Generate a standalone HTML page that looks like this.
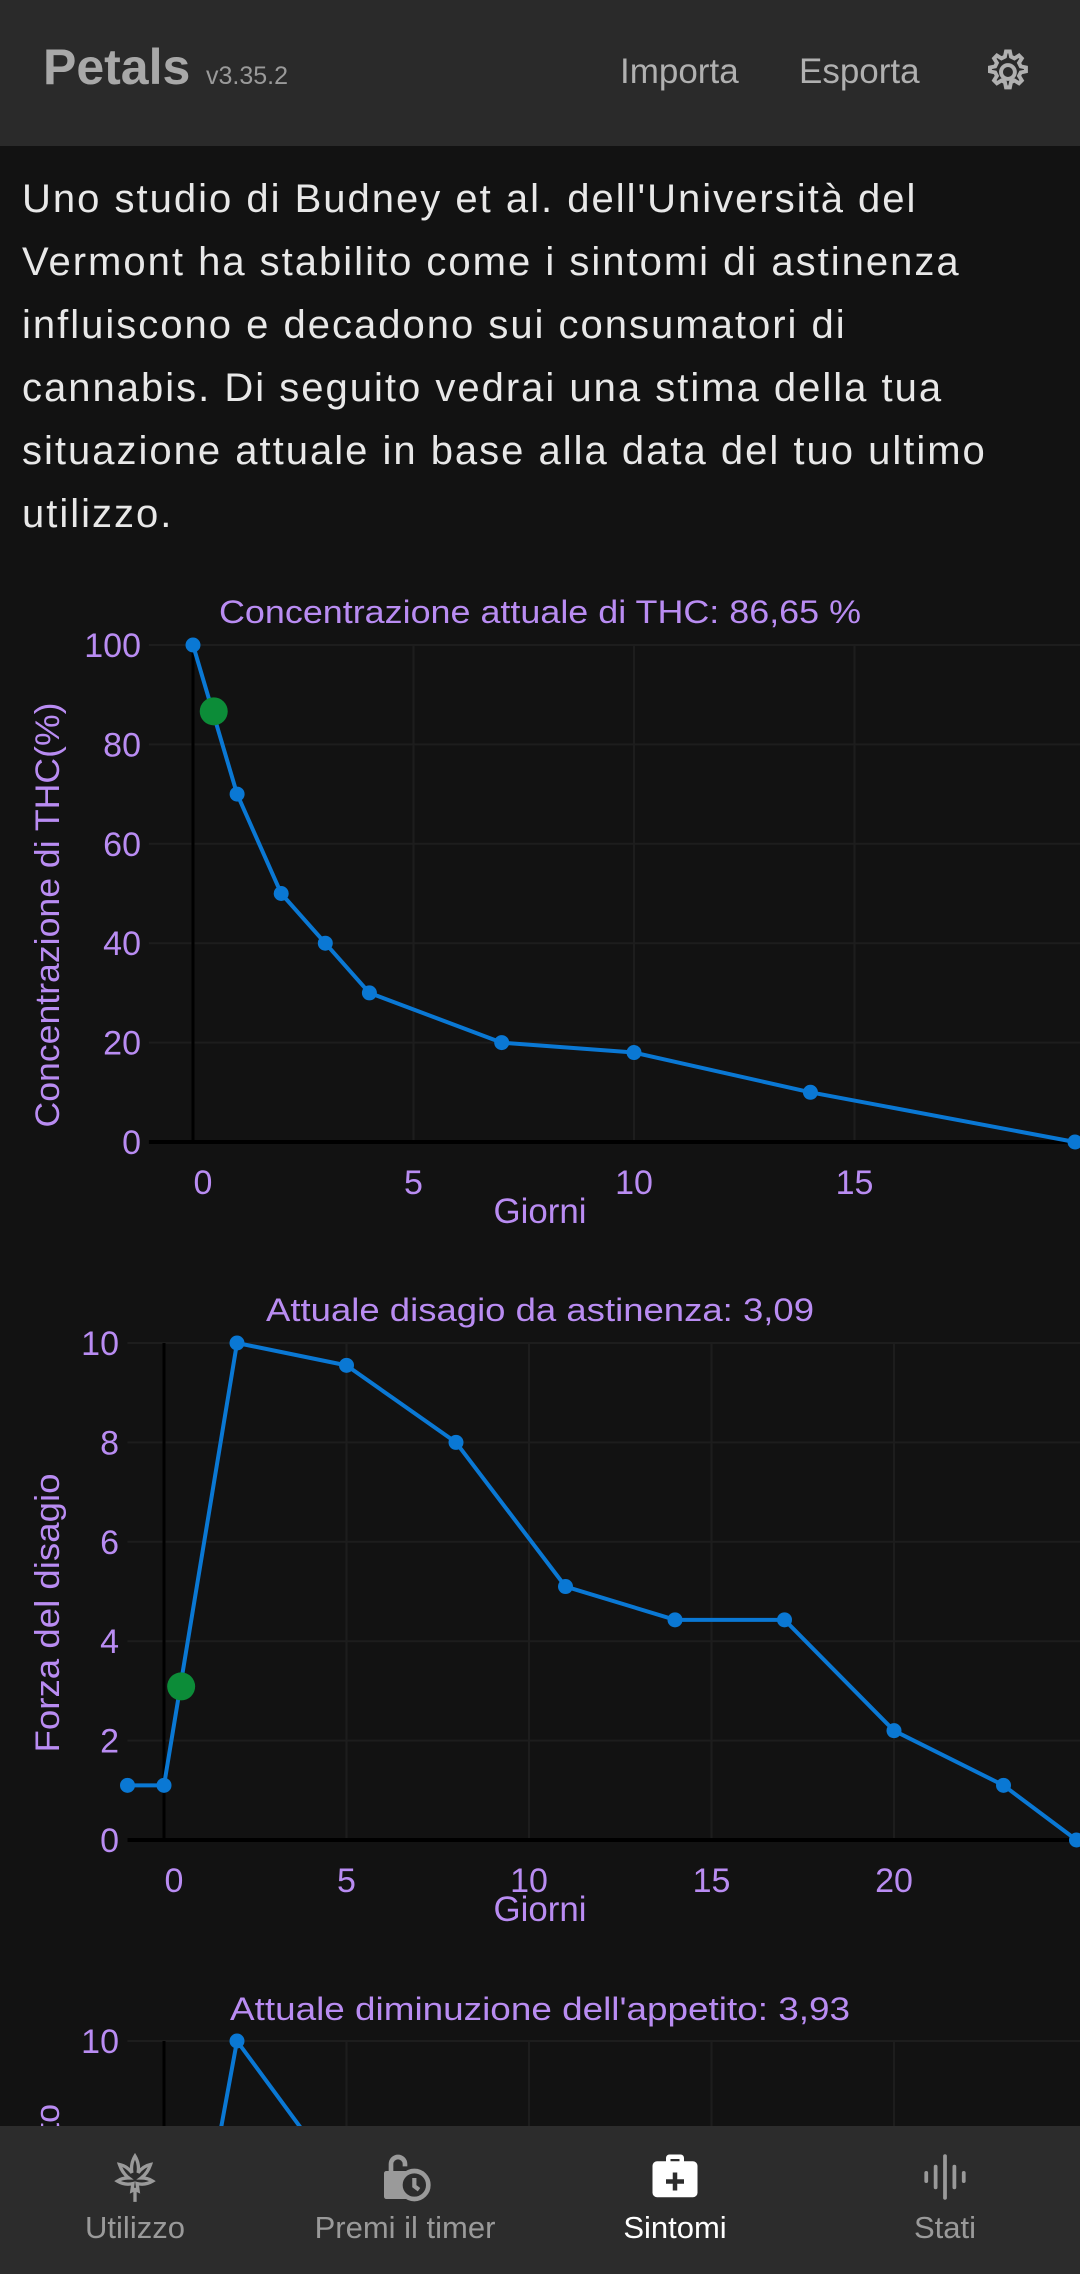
<!DOCTYPE html>
<html><head><meta charset="utf-8"><style>
html,body{margin:0;padding:0;background:#121212;width:1080px;height:2274px;overflow:hidden;font-family:"Liberation Sans",sans-serif;position:relative}
#hdr{position:absolute;left:0;top:0;width:1080px;height:146px;background:#2a2a2a}
#para{position:absolute;left:22px;top:168px;width:1058px;color:#e8e8e8;font-size:40px;line-height:63px;letter-spacing:2px;white-space:nowrap;overflow:hidden}
#nav{position:absolute;left:0;top:2126px;width:1080px;height:148px;background:#2c2c2c}
.nl{position:absolute;top:2210px;width:270px;text-align:center;font-size:31px;color:#9a9a9a}
</style></head><body>
<svg id="chart" width="1080" height="2274" style="position:absolute;left:0;top:0;overflow:hidden" font-family="Liberation Sans, sans-serif"></svg>
<div id="hdr">
<span style="position:absolute;left:43px;top:38px;font-size:50px;font-weight:bold;color:#a8a8a8">Petals</span>
<span style="position:absolute;left:206px;top:62px;font-size:25px;color:#9a9a9a">v3.35.2</span>
<span style="position:absolute;left:620px;top:52px;font-size:35px;color:#b0b0b0">Importa</span>
<span style="position:absolute;left:799px;top:52px;font-size:35px;color:#b0b0b0">Esporta</span>
<svg style="position:absolute;left:980px;top:46px" width="52" height="52" viewBox="0 0 24 24"><path fill="none" stroke="#b0b0b0" stroke-width="1.8" d="M12 2.5l1.8 0 .5 2.4 1.6.8 2.1-1.3 1.3 1.3-1.3 2.1.8 1.6 2.4.5v1.8l-2.4.5-.8 1.6 1.3 2.1-1.3 1.3-2.1-1.3-1.6.8-.5 2.4h-1.8l-.5-2.4-1.6-.8-2.1 1.3-1.3-1.3 1.3-2.1-.8-1.6-2.4-.5v-1.8l2.4-.5.8-1.6-1.3-2.1 1.3-1.3 2.1 1.3 1.6-.8z"/><circle cx="12.9" cy="12" r="3.2" fill="none" stroke="#b0b0b0" stroke-width="1.8"/></svg>
</div>
<div id="para">Uno studio di Budney et al. dell'Università del<br>Vermont ha stabilito come i sintomi di astinenza<br>influiscono e decadono sui consumatori di<br>cannabis. Di seguito vedrai una stima della tua<br>situazione attuale in base alla data del tuo ultimo<br>utilizzo.</div>
<div id="nav"></div>
<svg style="position:absolute;left:110px;top:2152px" width="50" height="54" viewBox="0 0 24 26"><path fill="none" stroke="#9a9a9a" stroke-width="1.6" d="M12 2c1.5 2.5 2 5 1.5 8 1.5-2 3.5-3.5 6-4-1 3-2.5 5-4.5 6.5 2 0 4 .5 5.5 1.5-2.5 1.5-5 1.8-7.5 1.2l.5 3.5L12 18l-1.5.7.5-3.5c-2.5.6-5 .3-7.5-1.2 1.5-1 3.5-1.5 5.5-1.5C7 11 5.5 9 4.5 6c2.5.5 4.5 2 6 4-.5-3 0-5.5 1.5-8zM12 18v6"/></svg>
<svg style="position:absolute;left:377px;top:2150px" width="56" height="56" viewBox="0 0 24 24"><path fill="#9a9a9a" d="M5 9V6a4 4 0 0 1 8 0v1h-2V6a2 2 0 0 0-4 0v3h7a7 7 0 0 0 0 12H4a1 1 0 0 1-1-1V10a1 1 0 0 1 1-1z"/><circle cx="16" cy="15" r="6" fill="none" stroke="#9a9a9a" stroke-width="2"/><path d="M16 12v3.5l2 1.5" stroke="#9a9a9a" stroke-width="1.8" fill="none"/></svg>
<svg style="position:absolute;left:648px;top:2150px" width="54" height="54" viewBox="0 0 24 24"><path fill="#ffffff" d="M8 5V3.5A1.5 1.5 0 0 1 9.5 2h5A1.5 1.5 0 0 1 16 3.5V5h4a2 2 0 0 1 2 2v12a2 2 0 0 1-2 2H4a2 2 0 0 1-2-2V7a2 2 0 0 1 2-2zm2 0h4V4h-4zm1 5v3H8v2h3v3h2v-3h3v-2h-3v-3z"/></svg>
<svg style="position:absolute;left:920px;top:2152px" width="50" height="50" viewBox="0 0 24 24"><g stroke="#9a9a9a" stroke-width="1.8" stroke-linecap="round"><path d="M3 10v4M7.5 7v10M12 2v20M16.5 7v10M21 10v4"/></g></svg>
<div class="nl" style="left:0">Utilizzo</div>
<div class="nl" style="left:270px">Premi il timer</div>
<div class="nl" style="left:540px;color:#fff">Sintomi</div>
<div class="nl" style="left:810px">Stati</div>
<script>
const thcDays=[0,1,2,3,4,7,10,14,20];
const thcValues=[100,70,50,40,30,20,18,10,0];
const thcCurrent=[0.47,86.65];
const thcYTicks=[0,20,40,60,80,100];
const thcXTicks=[0,5,10,15];
const disDays=[-1,0,2,5,8,11,14,17,20,23,25];
const disValues=[1.1,1.1,10,9.55,8,5.1,4.43,4.43,2.2,1.1,0];
const disCurrent=[0.47,3.09];
const disYTicks=[0,2,4,6,8,10];
const disXTicks=[0,5,10,15,20];
const appDays=[-1,0,2,5,8,11,14,17,20,23,25];
const appValues=[2,2,10,7,5,4,3,2,1.5,1,0];
const appCurrent=[0.47,3.93];
const appYTicks=[10];
const appXTicks=[0,5,10,15,20];

const NS="http://www.w3.org/2000/svg";
const svg=document.getElementById('chart');
const PUR="#b98cf2";
function el(tag,a,p){const e=document.createElementNS(NS,tag);for(const k in a)e.setAttribute(k,a[k]);(p||svg).appendChild(e);return e;}
function txt(s,a){const t=el('text',a);t.textContent=s;return t;}
function chart(o){
  const g=el('g',{});
  
  
  const X=v=>o.x0+v*o.sx, Y=v=>o.y0-v*o.sy;
  o.yTicks.forEach(t=>{if(t>0){const l=el('line',{x1:X(o.xmin),x2:1080,y1:Y(t),y2:Y(t),stroke:'#1d1d1d','stroke-width':2},g);}
    const tl=txt(String(t),{x:o.ylx,y:Y(t)+12,'text-anchor':'end','font-size':34,fill:PUR});});
  o.xTicks.forEach(t=>{if(t>0){const l=el('line',{x1:X(t),x2:X(t),y1:o.top,y2:o.y0,stroke:'#1d1d1d','stroke-width':2},g);}
    const tl=txt(String(t),{x:X(t)+(t===0?10:0),y:o.y0+52,'text-anchor':'middle','font-size':34,fill:PUR});});
  const ya=el('line',{x1:X(0),x2:X(0),y1:o.top,y2:o.y0,stroke:'#000','stroke-width':3},g);
  
  const xa=el('line',{x1:X(o.xmin),x2:1080,y1:o.y0,y2:o.y0,stroke:'#000','stroke-width':4},g);
  
  const pts=o.days.map((d,i)=>X(d)+','+Y(o.vals[i])).join(' ');
  const pl=el('polyline',{points:pts,fill:'none',stroke:'#0a78d4','stroke-width':4,'stroke-linejoin':'round'},g);
  
  o.days.forEach((d,i)=>{const c=el('circle',{cx:X(d),cy:Y(o.vals[i]),r:7.5,fill:'#0a78d4'},g);});
  const cc=el('circle',{cx:X(o.cur[0]),cy:Y(o.cur[1]),r:14,fill:'#0c8c38'},g);
  
  const ti=txt(o.title,{x:540,y:o.titleY,'text-anchor':'middle','font-size':32,fill:PUR,textLength:o.titleW,lengthAdjust:'spacingAndGlyphs'});
  
  if(o.xlabel){const xl=txt('Giorni',{x:540,y:o.y0+81,'text-anchor':'middle','font-size':35,fill:PUR,textLength:93,lengthAdjust:'spacingAndGlyphs'});}
  const ya2={x:0,y:0,'text-anchor':o.yAnchor||'middle','font-size':34,fill:PUR,transform:`translate(59,${o.ylY}) rotate(-90)`};
  if(o.ylW){ya2.textLength=o.ylW;ya2.lengthAdjust='spacingAndGlyphs';}
  const yl=txt(o.ylabel,ya2);
  
}
chart({name:'thc-chart',x0:193,sx:44.1,y0:1142,sy:4.97,top:645,xmin:-1,days:thcDays,vals:thcValues,cur:thcCurrent,yTicks:thcYTicks,xTicks:thcXTicks,ylx:141,title:'Concentrazione attuale di THC: 86,65 %',titleY:623,titleW:642,xlabel:true,ylabel:'Concentrazione di THC(%)',ylY:915,ylW:425});
chart({name:'withdrawal-chart',x0:164,sx:36.5,y0:1840,sy:49.7,top:1343,xmin:-1,days:disDays,vals:disValues,cur:disCurrent,yTicks:disYTicks,xTicks:disXTicks,ylx:119,title:'Attuale disagio da astinenza: 3,09',titleY:1321,titleW:548,xlabel:true,ylabel:'Forza del disagio',ylY:1613,ylW:279});
chart({name:'appetite-chart',x0:164,sx:36.5,y0:2538,sy:49.7,top:2041,xmin:-1,days:appDays,vals:appValues,cur:appCurrent,yTicks:appYTicks,xTicks:appXTicks,ylx:119,title:"Attuale diminuzione dell'appetito: 3,93",titleY:2020,titleW:620,xlabel:false,ylabel:"Diminuzione dell'appetito",ylY:2104,yAnchor:'end'});
</script>
</body></html>
